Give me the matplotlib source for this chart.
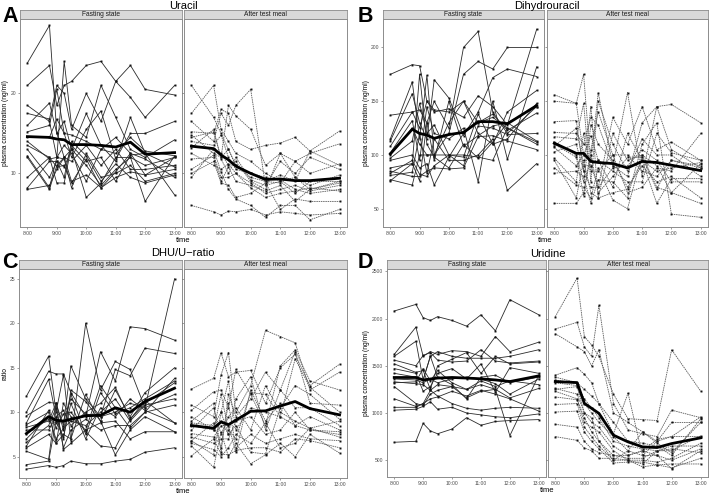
import matplotlib
matplotlib.use("Agg")
import matplotlib.pyplot as plt
import numpy as np

plt.rcParams['font.family'] = ['Liberation Sans', 'DejaVu Sans']

times = [8.0, 8.75, 9.0, 9.25, 9.5, 10.0, 10.5, 11.0, 11.5, 12.0, 13.0]
xtick_vals = [8, 9, 10, 11, 12, 13]
xtick_labels = ["8:00", "9:00", "10:00", "11:00", "12:00", "13:00"]
facet_names = ["Fasting state", "After test meal"]

# ---------------- Uracil ----------------
uracil_fast = [
    [23.8, 28.5, 15.0, 12.0, 13.0, 11.0, 8.5, 10.5, 12.0, 11.0, 12.0],
    [21.0, 23.5, 18.5, 21.0, 21.5, 23.5, 24.0, 21.5, 19.5, 17.0, 21.0],
    [18.5, 16.5, 12.0, 24.0, 16.0, 14.5, 21.0, 17.0, 13.0, 12.0, 14.2],
    [17.5, 16.8, 21.0, 20.0, 15.5, 20.0, 16.5, 21.5, 23.5, 20.5, 19.8],
    [16.0, 18.8, 15.0, 16.5, 13.0, 17.5, 13.5, 11.5, 17.0, 12.5, 10.8],
    [15.2, 16.0, 20.5, 15.0, 12.0, 15.5, 17.8, 11.8, 15.0, 15.0, 16.5],
    [14.5, 14.5, 16.8, 15.0, 14.8, 14.0, 13.0, 12.5, 14.5, 12.8, 12.2],
    [14.0, 11.8, 12.0, 13.5, 12.5, 9.0, 13.0, 14.5, 12.5, 11.8, 9.5],
    [13.5, 12.0, 10.8, 11.0, 8.8, 11.8, 8.2, 10.2, 12.5, 9.8, 12.0],
    [13.0, 9.5, 11.5, 10.8, 13.0, 7.0, 8.8, 12.0, 12.0, 6.5, 12.2],
    [12.2, 8.2, 12.0, 11.8, 8.2, 12.5, 9.5, 10.0, 11.0, 9.0, 10.0],
    [12.0, 8.0, 11.0, 12.0, 11.5, 13.5, 11.0, 13.0, 10.5, 10.5, 11.0],
    [9.5, 12.0, 8.8, 8.8, 13.5, 11.5, 12.0, 9.0, 12.3, 12.5, 7.3],
    [8.2, 11.5, 11.5, 9.5, 14.0, 12.2, 9.0, 11.2, 9.5, 8.8, 9.8],
    [8.0, 8.5, 10.5, 12.0, 9.0, 9.8, 8.2, 9.5, 10.2, 9.8, 10.5],
]
uracil_meal = [
    [21.0, 17.0, 15.0, 13.0, 11.0, 10.0, 9.5, 9.2, 8.0, 7.5, 8.0],
    [17.5, 21.0, 15.5, 14.0, 12.5, 11.5, 10.0, 9.0, 9.5, 8.0, 9.0],
    [16.5, 14.0, 17.5, 16.0, 18.5, 20.5, 8.5, 11.5, 10.0, 12.0, 10.5],
    [15.2, 15.0, 18.0, 17.5, 14.0, 13.0, 13.5, 13.8, 14.5, 12.8, 15.3],
    [14.8, 12.5, 12.0, 18.5, 17.2, 15.5, 11.0, 12.5, 11.5, 12.5, 13.7],
    [14.5, 15.2, 12.0, 13.0, 11.0, 9.5, 9.0, 9.8, 9.0, 12.8, 11.0],
    [14.0, 13.5, 14.8, 12.0, 10.5, 10.0, 9.0, 8.8, 11.5, 10.0, 11.2],
    [13.5, 13.0, 12.5, 11.0, 11.5, 9.0, 8.0, 12.5, 9.5, 8.5, 9.8],
    [13.2, 15.5, 11.8, 10.0, 12.0, 9.2, 8.5, 9.0, 7.5, 9.0, 9.0],
    [12.5, 11.0, 10.5, 11.2, 10.0, 8.8, 7.5, 8.0, 8.5, 7.8, 8.5],
    [11.8, 12.0, 9.0, 10.8, 9.0, 8.5, 7.8, 8.5, 6.5, 8.0, 8.8],
    [10.5, 12.3, 9.5, 9.5, 10.0, 8.2, 7.0, 7.5, 7.8, 8.2, 7.8],
    [10.0, 11.5, 8.8, 8.5, 7.0, 7.5, 8.8, 5.5, 6.8, 6.5, 6.5],
    [9.5, 13.0, 10.2, 8.0, 6.8, 6.0, 4.5, 6.0, 6.0, 4.2, 5.5],
    [6.0, 5.2, 4.8, 5.3, 5.2, 5.5, 4.8, 5.2, 5.0, 4.8, 5.0],
]
uracil_mean_fast = [14.6, 14.5, 14.3, 14.2, 13.6, 13.6, 13.5, 13.3, 13.9, 12.4, 12.6]
uracil_mean_meal = [13.4, 13.1, 12.3, 11.7, 10.9, 10.0, 9.25, 9.3, 9.1, 9.1, 9.4]

# ---------------- Dihydrouracil ----------------
dhu_fast = [
    [175, 184, 183, 150, 142, 140, 150, 130, 135, 125, 110],
    [137, 140, 142, 130, 150, 125, 200, 215, 140, 120, 145],
    [115, 168, 115, 174, 100, 120, 175, 187, 180, 200, 200],
    [113, 157, 130, 115, 170, 153, 118, 140, 172, 180, 173],
    [108, 140, 125, 150, 140, 143, 135, 155, 145, 128, 217],
    [102, 132, 95, 145, 120, 115, 125, 75, 150, 96, 182],
    [100, 125, 110, 100, 100, 130, 150, 120, 110, 140, 160],
    [97, 113, 148, 120, 128, 100, 98, 138, 110, 115, 148],
    [95, 100, 88, 92, 72, 98, 120, 130, 138, 123, 139],
    [88, 92, 175, 110, 98, 88, 110, 97, 112, 130, 113],
    [85, 80, 80, 85, 88, 87, 88, 117, 118, 113, 105],
    [83, 95, 82, 80, 90, 100, 90, 127, 125, 119, 120],
    [81, 84, 120, 83, 115, 95, 95, 100, 115, 67, 92],
    [77, 72, 100, 100, 100, 100, 100, 98, 95, 125, 112],
    [76, 92, 76, 130, 95, 150, 108, 118, 127, 130, 145],
]
dhu_meal = [
    [156, 148, 100, 95, 158, 90, 158, 80, 145, 147, 130],
    [150, 148, 175, 90, 70, 135, 110, 145, 105, 112, 95],
    [131, 132, 85, 145, 60, 120, 95, 100, 90, 65, 92],
    [121, 120, 110, 135, 128, 90, 80, 130, 145, 105, 88],
    [117, 115, 148, 75, 150, 110, 85, 115, 100, 100, 80],
    [112, 100, 75, 128, 110, 95, 70, 90, 75, 80, 60],
    [110, 98, 62, 105, 140, 100, 100, 85, 80, 95, 88],
    [108, 125, 90, 90, 95, 70, 120, 95, 85, 88, 93],
    [107, 90, 100, 118, 95, 85, 75, 75, 120, 102, 95],
    [103, 110, 85, 70, 70, 88, 90, 105, 95, 75, 75],
    [97, 75, 120, 85, 85, 100, 65, 70, 88, 85, 120],
    [95, 60, 95, 65, 60, 65, 68, 95, 55, 78, 78],
    [88, 72, 70, 60, 88, 58, 50, 100, 70, 65, 55],
    [83, 85, 80, 55, 77, 75, 60, 110, 130, 45, 42],
    [55, 55, 65, 100, 65, 80, 98, 98, 68, 95, 90],
]
dhu_mean_fast = [101, 124, 120, 118.5, 115.5, 119, 121, 131, 131, 129, 146]
dhu_mean_meal = [111, 101.5, 101.5, 94, 93, 92, 88, 94, 93, 90.5, 85.5]

# ---------------- DHU/U ratio ----------------
ratio_fast = [
    [11.8, 16.3, 10.0, 14.2, 6.8, 20.0, 12.5, 15.7, 14.8, 10.5, 25.0],
    [10.0, 14.6, 14.3, 14.3, 12.2, 9.5, 16.8, 13.5, 19.6, 19.4, 18.1],
    [9.6, 11.1, 11.0, 8.5, 15.2, 11.5, 9.5, 14.8, 14.1, 17.2, 16.6],
    [8.8, 13.7, 9.5, 7.0, 12.5, 11.2, 9.0, 12.5, 9.5, 12.2, 15.0],
    [8.6, 10.0, 6.5, 11.0, 9.5, 8.0, 13.0, 10.5, 8.2, 10.0, 13.8],
    [8.3, 9.0, 11.0, 8.0, 12.0, 7.5, 12.2, 9.8, 10.5, 11.5, 13.5],
    [8.0, 8.0, 9.5, 10.2, 8.5, 10.0, 11.0, 12.8, 9.2, 11.0, 13.3],
    [7.6, 9.2, 8.8, 9.0, 11.5, 9.8, 9.5, 10.0, 11.0, 10.5, 12.0],
    [7.0, 9.5, 7.0, 8.2, 9.0, 8.5, 10.0, 11.5, 9.0, 10.8, 11.5],
    [6.6, 8.5, 10.5, 6.0, 8.0, 9.2, 8.0, 8.5, 8.5, 10.0, 10.8],
    [6.2, 10.2, 8.2, 9.8, 10.0, 7.8, 6.2, 6.0, 9.2, 11.3, 8.8],
    [6.0, 7.5, 6.5, 7.5, 7.0, 12.0, 9.0, 5.2, 8.0, 9.5, 7.8],
    [5.6, 4.7, 11.0, 5.8, 6.5, 8.0, 8.8, 9.0, 7.0, 7.8, 7.8],
    [4.1, 4.5, 9.0, 7.2, 11.0, 7.0, 10.5, 9.5, 11.5, 10.2, 8.8],
    [3.6, 4.0, 3.8, 4.0, 4.5, 4.2, 4.2, 4.5, 4.7, 5.5, 6.0],
]
ratio_meal = [
    [12.6, 13.8, 16.7, 14.0, 14.5, 14.7, 11.0, 15.0, 16.5, 13.0, 15.4],
    [10.8, 9.5, 14.2, 16.7, 10.0, 13.0, 19.2, 18.5, 17.8, 12.5, 14.5],
    [10.2, 12.3, 12.5, 10.5, 14.8, 12.0, 8.5, 15.2, 17.0, 13.5, 12.5],
    [9.0, 11.0, 5.5, 12.0, 9.5, 11.5, 14.5, 12.5, 16.8, 11.0, 10.8],
    [8.8, 8.5, 10.0, 13.5, 8.0, 10.5, 10.0, 9.5, 16.0, 12.8, 10.0],
    [8.5, 8.0, 9.0, 7.5, 11.5, 14.0, 8.0, 12.5, 10.5, 10.5, 8.5],
    [8.0, 10.5, 7.5, 9.5, 10.5, 8.0, 13.0, 10.0, 9.0, 8.2, 9.0],
    [7.6, 7.2, 8.5, 8.5, 5.5, 12.5, 9.0, 11.0, 8.5, 9.5, 8.0],
    [7.2, 6.5, 7.0, 7.0, 9.0, 9.5, 7.5, 8.0, 10.0, 8.0, 7.5],
    [6.8, 8.8, 6.0, 11.0, 6.0, 7.5, 6.5, 7.0, 7.5, 7.0, 6.8],
    [6.5, 5.8, 5.0, 6.0, 7.5, 6.5, 8.8, 6.0, 6.5, 8.2, 7.2],
    [6.2, 3.8, 7.8, 5.0, 6.5, 4.2, 5.2, 6.5, 5.0, 7.5, 5.4],
    [5.1, 7.0, 5.3, 5.2, 5.7, 6.0, 6.0, 5.5, 7.0, 6.8, 6.0],
    [9.5, 8.0, 12.0, 8.0, 7.0, 12.2, 12.0, 9.5, 8.5, 8.0, 7.8],
    [6.8, 5.2, 10.0, 7.5, 8.5, 5.5, 5.3, 10.5, 13.0, 12.0, 9.2],
]
ratio_mean_fast = [7.6, 9.5, 9.1, 9.0, 9.2, 9.6, 9.65, 10.5, 10.0, 11.2, 12.7]
ratio_mean_meal = [8.5, 8.2, 8.9, 8.6, 9.1, 10.1, 10.15, 10.7, 11.2, 10.4, 9.7]

# ---------------- Uridine ----------------
urd_fast = [
    [2080, 2150, 2010, 1980, 2020, 1980, 1920, 2040, 1870, 2200, 2040],
    [1620, 1910, 1600, 1650, 1620, 1660, 1650, 1600, 1810, 1650, 1750],
    [1600, 1760, 1350, 1600, 1650, 1600, 1580, 1580, 1580, 1600, 1670],
    [1560, 1500, 1610, 1640, 1560, 1540, 1550, 1670, 1550, 1530, 1550],
    [1520, 1430, 1450, 1250, 1500, 1570, 1640, 1420, 1600, 1520, 1540],
    [1470, 1420, 1230, 1280, 1420, 1470, 1360, 1520, 1220, 1480, 1420],
    [1420, 1380, 1350, 1600, 1380, 1300, 1150, 1380, 1400, 1320, 1380],
    [1360, 1350, 1320, 1360, 1320, 1360, 1380, 1360, 1310, 1200, 1360],
    [1330, 1310, 1300, 1240, 1300, 1280, 1250, 1300, 1250, 760, 1400],
    [1280, 1100, 1080, 1200, 1240, 1280, 1160, 1230, 1250, 1160, 1260],
    [1150, 1070, 1100, 1150, 1170, 1230, 1180, 1240, 1200, 1150, 1020],
    [1060, 1060, 1100, 1240, 1180, 1100, 1050, 1030, 1050, 1060, 1050],
    [1030, 1040, 1070, 1120, 1040, 1060, 1000, 980, 960, 950, 990],
    [690, 700, 890, 810, 780, 830, 950, 870, 910, 920, 930],
    [1320, 1330, 1470, 1340, 1450, 1320, 1250, 1340, 1280, 1340, 1300],
]
urd_meal = [
    [2020, 2430, 1810, 1720, 1600, 1200, 940, 930, 920, 1670, 1230],
    [1890, 1960, 1700, 1600, 2140, 1100, 820, 780, 750, 1030, 950],
    [1840, 1700, 1650, 1500, 1670, 1000, 900, 800, 700, 750, 960],
    [1400, 1480, 1410, 1320, 1100, 780, 1210, 550, 700, 900, 900],
    [1380, 1320, 1250, 1180, 1100, 900, 700, 680, 650, 550, 940],
    [1350, 1310, 1150, 1050, 950, 700, 650, 620, 600, 600, 760],
    [1320, 1290, 1100, 1000, 900, 750, 600, 550, 550, 500, 620],
    [1250, 1280, 1000, 900, 850, 650, 550, 600, 720, 750, 750],
    [1230, 1150, 900, 850, 800, 600, 500, 500, 480, 520, 680],
    [1170, 1140, 950, 800, 700, 550, 520, 520, 600, 620, 580],
    [1090, 1100, 850, 750, 650, 500, 500, 430, 450, 420, 520],
    [1010, 1020, 800, 700, 620, 470, 480, 480, 450, 460, 460],
    [880, 850, 700, 620, 580, 550, 550, 600, 550, 410, 600],
    [750, 710, 630, 600, 520, 520, 500, 460, 600, 650, 650],
    [1260, 1200, 1000, 950, 700, 500, 600, 800, 680, 580, 900],
]
urd_mean_fast = [1376, 1376, 1350, 1360, 1370, 1376, 1370, 1362, 1350, 1333, 1393]
urd_mean_meal = [1333, 1322, 1102, 1049, 996, 765, 694, 641, 634, 676, 737]

W, H = 709, 494
fig = plt.figure(figsize=(W / 100, H / 100), dpi=100)


def ax_at(x0, y0, x1, y1):
    return fig.add_axes([x0 / W, 1 - y1 / H, (x1 - x0) / W, (y1 - y0) / H])


FRAME = "#8c8c8c"


def draw_panel(letter, title, title_x, title_y, letter_x, letter_y,
               facets, strip_y, plot_bottom, ylim, yticks, ylabel, ylabel_x,
               fast, meal, mean_fast, mean_meal):
    strip_top, strip_bot = strip_y
    series = [(fast, mean_fast, "-", "#2a2a2a"), (meal, mean_meal, (0, (1.8, 0.9)), "#5a5a5a")]
    for i, ((x0, x1), (subjects, mean, ls, col)) in enumerate(zip(facets, series)):
        sax = ax_at(x0, strip_top, x1, strip_bot)
        sax.set_facecolor("#d9d9d9")
        sax.set_xticks([]); sax.set_yticks([])
        for s in sax.spines.values():
            s.set_color(FRAME); s.set_linewidth(0.6)
        sax.text(0.5, 0.45, facet_names[i], ha="center", va="center",
                 fontsize=4.8, color="#1a1a1a", transform=sax.transAxes)
        ax = ax_at(x0, strip_bot, x1, plot_bottom)
        for yv in subjects:
            ax.plot(times, yv, linestyle=ls, color=col, linewidth=0.6,
                    marker="s", markersize=1.4, markerfacecolor="#111111",
                    markeredgewidth=0)
        ax.plot(times, mean, color="black", linewidth=2.0, solid_joinstyle="round")
        ax.set_xlim(7.75, 13.25)
        ax.set_ylim(*ylim)
        ax.set_xticks(xtick_vals)
        ax.set_xticklabels(xtick_labels, fontsize=3.6, color="#4d4d4d")
        ax.set_yticks(yticks)
        if i == 0:
            ax.set_yticklabels([str(t) for t in yticks], fontsize=3.6, color="#4d4d4d")
        else:
            ax.set_yticklabels([])
            ax.tick_params(axis="y", length=0)
        ax.tick_params(length=1.5, width=0.4, color="#555555", pad=1.2)
        for s in ax.spines.values():
            s.set_color(FRAME); s.set_linewidth(0.7)
    fig.text(((facets[0][0] + facets[1][1]) / 2) / W, 1 - (plot_bottom + 13) / H, "time",
             ha="center", va="center", fontsize=5.5)
    fig.text(ylabel_x / W, 1 - ((strip_bot + plot_bottom) / 2) / H, ylabel,
             rotation=90, ha="center", va="center", fontsize=4.8)
    fig.text(title_x / W, 1 - title_y / H, title, ha="center", va="center", fontsize=8)
    fig.text(letter_x / W, 1 - letter_y / H, letter, ha="left", va="center",
             fontsize=15.5, fontweight="bold")


draw_panel("A", "Uracil", 183, 6, 2, 17,
           [(20, 182), (184, 347)], (10, 19), 227, (3.3, 29.3), [10, 20],
           "plasma concentration (ng/ml)", 6,
           uracil_fast, uracil_meal, uracil_mean_fast, uracil_mean_meal)
draw_panel("B", "Dihydrouracil", 547, 6, 358, 17,
           [(383, 544), (547, 708)], (10, 19), 227, (33, 226.5), [50, 100, 150, 200],
           "plasma concentration (ng/ml)", 366,
           dhu_fast, dhu_meal, dhu_mean_fast, dhu_mean_meal)
draw_panel("C", "DHU/U\u2212ratio", 183, 253, 2, 263,
           [(19, 182), (184, 347)], (260, 269), 478, (2.6, 26.1), [5, 10, 15, 20, 25],
           "ratio", 5,
           ratio_fast, ratio_meal, ratio_mean_fast, ratio_mean_meal)
draw_panel("D", "Uridine", 548, 254, 358, 263,
           [(387, 546), (548, 708)], (260, 269), 477, (322, 2525), [500, 1000, 1500, 2000, 2500],
           "plasma concentration (ng/ml)", 366,
           urd_fast, urd_meal, urd_mean_fast, urd_mean_meal)

fig.savefig("out.png", dpi=100)
